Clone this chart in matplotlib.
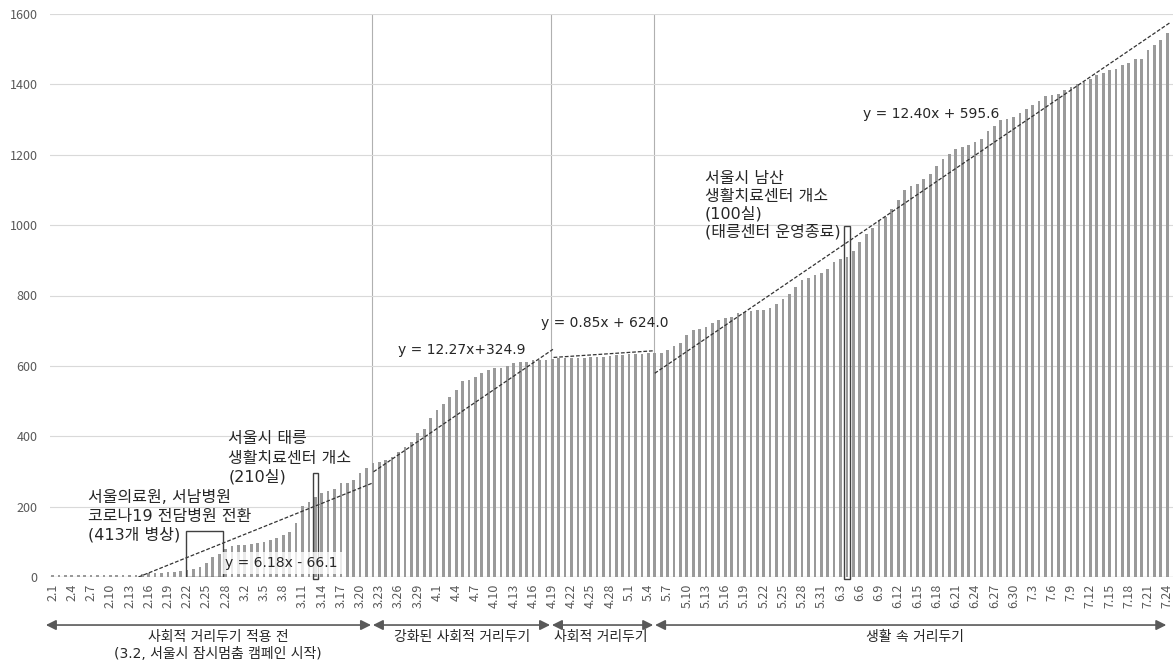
import numpy as np
import pandas as pd
import matplotlib
matplotlib.use('Agg')
import matplotlib.pyplot as plt
from matplotlib.patches import Rectangle
import matplotlib.transforms as mtransforms

plt.rcParams['font.family'] = ['Noto Sans CJK KR', 'DejaVu Sans']
mixed = ['DejaVu Sans', 'Noto Sans CJK KR']   # wider latin/space, korean falls back

# daily dates, 2020-02-01 .. 2020-07-24
dates = pd.date_range('2020-02-01', '2020-07-24', freq='D')
date_labels = [f'{d.month}.{d.day}' for d in dates]

# cumulative values, one per day
vals_feb = [5, 5, 5, 6, 6, 6, 6, 6, 6, 6, 6, 6, 6, 6, 8, 10, 12, 12, 14, 14,
            16, 20, 22, 28, 40, 57, 65, 80, 88]
vals_mar = [90, 92, 95, 97, 100, 105, 110, 118, 128, 153, 202, 214, 228, 238, 243,
            250, 266, 267, 277, 296, 309, 323, 326, 332, 342, 356, 370, 384, 410, 422, 451]
vals_apr = [474, 493, 512, 531, 557, 560, 567, 579, 588, 593, 595, 599, 607, 610, 612,
            616, 618, 618, 619, 622, 622, 622, 622, 623, 624, 624, 626, 628, 630, 632]
vals_may = [633, 634, 635, 637, 637, 637, 645, 657, 666, 689, 702, 705, 711, 723, 730,
            735, 740, 749, 754, 756, 758, 760, 765, 775, 790, 804, 825, 844, 851, 858, 863]
vals_jun = [875, 894, 905, 910, 927, 953, 976, 991, 1014, 1022, 1045, 1071, 1099, 1112, 1118,
            1130, 1144, 1169, 1188, 1201, 1216, 1223, 1227, 1237, 1246, 1267, 1281, 1298, 1303, 1308]
vals_jul = [1319, 1331, 1341, 1352, 1367, 1369, 1374, 1383, 1393, 1400, 1407, 1415, 1426, 1433,
            1440, 1445, 1455, 1461, 1471, 1473, 1497, 1511, 1526, 1546]
values = vals_feb + vals_mar + vals_apr + vals_may + vals_jun + vals_jul

# trend line segments (start day idx, start value, end day idx, end value)
trend_x0 = [13.4, 50.1, 78.2, 94.0]
trend_y0 = [0, 299, 624, 579]
trend_x1 = [49.8, 78.1, 93.9, 174.4]
trend_y1 = [266, 647, 643, 1575]
trend_text = ['y = 6.18x - 66.1', 'y = 12.27x+324.9', 'y = 0.85x + 624.0', 'y = 12.40x + 595.6']
trend_text_x = [26.9, 53.9, 76.2, 126.5]
trend_text_y = [40, 645, 722, 1317]

# phase separators and phase names
phase_lines = [49.85, 77.8, 93.9]
phase_edges = [-1.2, 49.85, 77.8, 93.9, 174.0]
phase_names = ['사회적 거리두기 적용 전', '강화된 사회적 거리두기', '사회적 거리두기', '생활 속 거리두기']
phase_label_x = [25.8, 63.9, 85.6, 134.6]

# event annotations (left day idx, line centre values, text lines)
note_x = [5.5, 27.4, 101.8]
note_y = [[225, 171, 119], [395, 338, 284], [1133, 1080, 1033, 980]]
note_lines = [['서울의료원, 서남병원', '코로나19 전담병원 전환', '(413개 병상)'],
              ['서울시 태릉', '생활치료센터 개소', '(210실)'],
              ['서울시 남산', '생활치료센터 개소', '(100실)', '(태릉센터 운영종료)']]

# highlighted events (day idx, box height)
event_idx = [41, 124]
event_top = [296, 998]

gray_txt = '#595959'
dark_txt = '#262626'

fig = plt.figure(figsize=(11.75, 6.62), dpi=100)
ax = fig.add_axes([50 / 1175, 85 / 662, 1123 / 1175, 563 / 662])

x = np.arange(len(values))
ax.bar(x, values, width=0.42, color='#9a9a9a', zorder=2)

ax.set_xlim(-0.41, 174.9)
ax.set_ylim(0, 1600)
ax.set_yticks(range(0, 1601, 200))
ax.grid(axis='y', color='#d9d9d9', lw=0.8, zorder=0)
ax.axhline(0, color='#bfbfbf', lw=0.9, zorder=1)
for s in ax.spines.values():
    s.set_visible(False)
ax.tick_params(axis='y', length=0, pad=9, labelsize=9, labelcolor=gray_txt)

ticks = x[::3]
ax.set_xticks(ticks)
ax.set_xticklabels([date_labels[i] for i in ticks], rotation=90, fontsize=9, color=gray_txt)
ax.tick_params(axis='x', length=0, pad=5)

for xv in phase_lines:
    ax.axvline(xv, color='#b0b0b0', lw=0.8, zorder=1)

# trend lines
for i in range(4):
    ax.plot([trend_x0[i], trend_x1[i]], [trend_y0[i], trend_y1[i]], color='#333333',
            lw=0.9, ls=(0, (3, 1.5)), zorder=4)

# event boxes
ax.add_patch(Rectangle((20.8, 0), 5.8, 131, fill=False, ec='#404040', lw=1, zorder=5))
for xi, top in zip(event_idx, event_top):
    ax.add_patch(Rectangle((xi - 0.42, -6), 0.84, top + 6, fill=False, ec='#404040',
                           lw=1, zorder=5, clip_on=False))

# equation labels
for i in range(4):
    bb = None
    if i == 0:
        bb = dict(boxstyle='square,pad=0.3', fc='white', ec='none', alpha=0.8)
    ax.text(trend_text_x[i], trend_text_y[i], trend_text[i], fontsize=10, family=mixed,
            va='center', ha='left', color=dark_txt, zorder=6, bbox=bb)

# event annotations
for nx, ys, lines in zip(note_x, note_y, note_lines):
    for yv, line in zip(ys, lines):
        ax.text(nx, yv, line, fontsize=11.5, family=mixed, va='center', ha='left',
                color=dark_txt, zorder=6)

# phase arrows below axis
trans = mtransforms.blended_transform_factory(ax.transData, ax.transAxes)
for k in range(4):
    a, b = phase_edges[k], phase_edges[k + 1]
    ax.annotate('', xy=(b - 0.15, -0.0853), xytext=(a + 0.15, -0.0853), xycoords=trans,
                textcoords=trans, annotation_clip=False,
                arrowprops=dict(arrowstyle='<|-|>,head_length=0.6,head_width=0.3',
                                color=gray_txt, lw=1.2, shrinkA=0, shrinkB=0))
    ax.text(phase_label_x[k], -0.107, phase_names[k], transform=trans, ha='center',
            va='center', fontsize=10, family=mixed, color=dark_txt)
ax.text(phase_label_x[0], -0.137, '(3.2, 서울시 잠시멈춤 캠페인 시작)',
        transform=trans, ha='center', va='center', fontsize=10, family=mixed, color=dark_txt)

fig.savefig('out.png', dpi=100)
